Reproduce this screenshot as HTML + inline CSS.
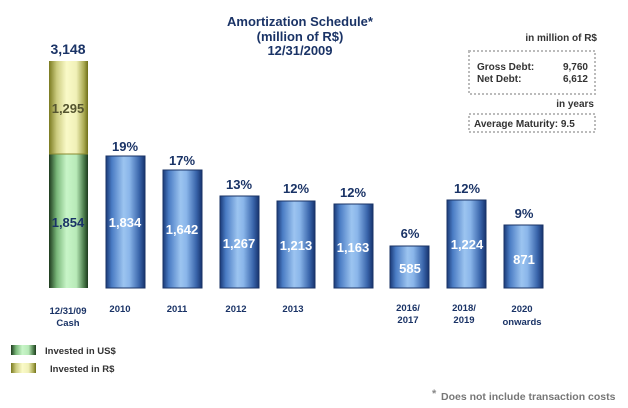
<!DOCTYPE html>
<html><head><meta charset="utf-8"><style>
body{margin:0;background:#fff;}
svg{display:block;font-family:"Liberation Sans",Arial,sans-serif;font-weight:bold;}
</style></head><body>
<svg width="628" height="408" viewBox="0 0 628 408">
<defs>
<linearGradient id="b" x1="0" x2="1" y1="0" y2="0">
<stop offset="0" stop-color="#1a3a78"/><stop offset="0.15" stop-color="#4a7cc4"/>
<stop offset="0.45" stop-color="#9cc4f0"/><stop offset="0.6" stop-color="#8ab6ea"/>
<stop offset="0.85" stop-color="#3a66ac"/><stop offset="1" stop-color="#16336e"/></linearGradient>
<linearGradient id="g" x1="0" x2="1" y1="0" y2="0">
<stop offset="0" stop-color="#1d3a1d"/><stop offset="0.2" stop-color="#7ab87a"/>
<stop offset="0.45" stop-color="#c8f5c8"/><stop offset="0.7" stop-color="#b8eab8"/>
<stop offset="0.9" stop-color="#4a7a4a"/><stop offset="1" stop-color="#1d3a1d"/></linearGradient>
<linearGradient id="y" x1="0" x2="1" y1="0" y2="0">
<stop offset="0" stop-color="#7a7a20"/><stop offset="0.2" stop-color="#cccc80"/>
<stop offset="0.45" stop-color="#fafac8"/><stop offset="0.7" stop-color="#f0f0b8"/>
<stop offset="0.9" stop-color="#a8a850"/><stop offset="1" stop-color="#6e6e18"/></linearGradient>
</defs>
<g fill="#1a3366" text-anchor="middle" font-size="12">
<text x="300" y="26" font-size="13">Amortization Schedule*</text>
<text x="300" y="41" font-size="13">(million of R$)</text>
<text x="300" y="55" font-size="13">12/31/2009</text>
</g>
<rect x="49" y="61" width="39" height="93" fill="url(#y)"/>
<rect x="49" y="154" width="39" height="134" fill="url(#g)"/>
<line x1="49" y1="154" x2="88" y2="154" stroke="#8a8a30"/>
<g text-anchor="middle" font-size="14" fill="#1a3366">
<text x="68" y="54">3,148</text>
<text x="68" y="113" fill="#555530" font-size="13">1,295</text>
<text x="68" y="227" font-size="13">1,854</text>
</g>
<g fill="url(#b)" stroke="#1a3366" stroke-width="1">
<rect x="106" y="156" width="39" height="132"/>
<rect x="163" y="170" width="39" height="118"/>
<rect x="220" y="196" width="39" height="92"/>
<rect x="277" y="201" width="38" height="87"/>
<rect x="334" y="204" width="39" height="84"/>
<rect x="390" y="246" width="39" height="42"/>
<rect x="447" y="200" width="39" height="88"/>
<rect x="504" y="225" width="39" height="63"/>
</g>
<g text-anchor="middle" font-size="13" fill="#fff">
<text x="125" y="227">1,834</text>
<text x="182" y="234">1,642</text>
<text x="239" y="248">1,267</text>
<text x="296" y="250">1,213</text>
<text x="353" y="252">1,163</text>
<text x="410" y="273">585</text>
<text x="467" y="249">1,224</text>
<text x="524" y="264">871</text>
</g>
<g text-anchor="middle" font-size="13" fill="#1a3366">
<text x="125" y="151">19%</text>
<text x="182" y="165">17%</text>
<text x="239" y="189">13%</text>
<text x="296" y="193">12%</text>
<text x="353" y="197">12%</text>
<text x="410" y="238">6%</text>
<text x="467" y="193">12%</text>
<text x="524" y="218">9%</text>
</g>
<g text-anchor="middle" font-size="9.5" fill="#1a3366">
<text x="68" y="314">12/31/09</text><text x="68" y="326">Cash</text>
<text x="120" y="312">2010</text>
<text x="177" y="312">2011</text>
<text x="236" y="312">2012</text>
<text x="293" y="312">2013</text>
<text x="408" y="311">2016/</text><text x="408" y="323">2017</text>
<text x="464" y="311">2018/</text><text x="464" y="323">2019</text>
<text x="522" y="312">2020</text><text x="522" y="325">onwards</text>
</g>
<rect x="11" y="345" width="25" height="10" fill="url(#g)"/>
<rect x="11" y="363" width="25" height="10" fill="url(#y)"/>
<g font-size="9.5" fill="#333">
<text x="45" y="354">Invested in US$</text>
<text x="50" y="372">Invested in R$</text>
<text x="432" y="397" fill="#888" font-size="11">*</text>
<text x="441" y="400" fill="#777" font-size="10.5">Does not include transaction costs</text>
</g>
<g font-size="10" fill="#333">
<text x="597" y="41" text-anchor="end">in million of R$</text>
<rect x="469" y="51" width="126" height="43" fill="none" stroke="#bbb" stroke-width="2" stroke-dasharray="2,2"/>
<text x="477" y="70">Gross Debt:</text><text x="588" y="70" text-anchor="end">9,760</text>
<text x="477" y="82">Net Debt:</text><text x="588" y="82" text-anchor="end">6,612</text>
<text x="594" y="107" text-anchor="end">in years</text>
<rect x="469" y="114" width="126" height="18" fill="none" stroke="#bbb" stroke-width="2" stroke-dasharray="2,2"/>
<text x="474" y="127">Average Maturity: 9.5</text>
</g>
</svg>
</body></html>
